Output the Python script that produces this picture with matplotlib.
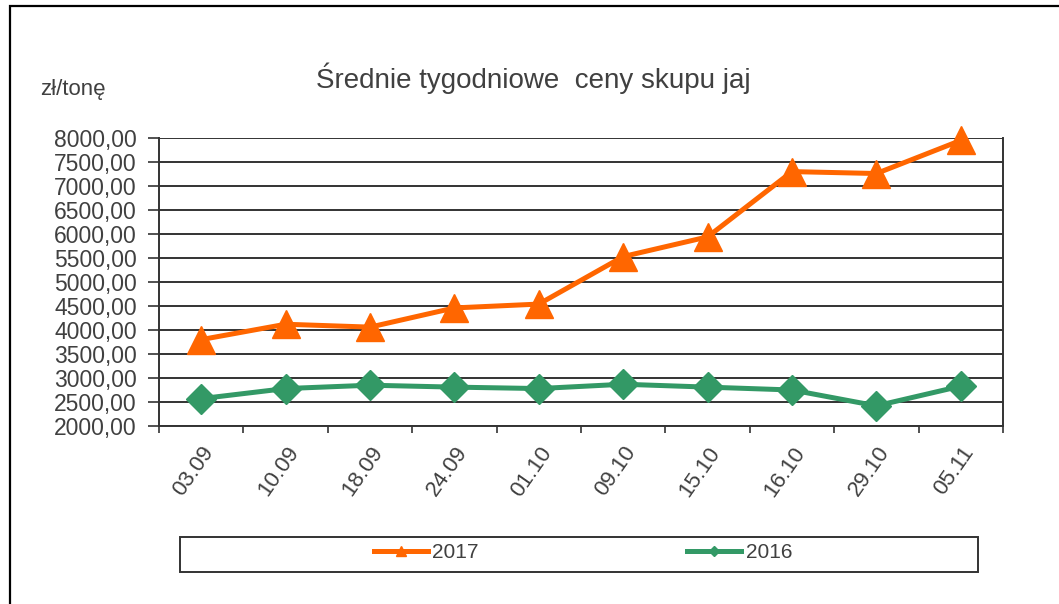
import matplotlib.pyplot as plt
from matplotlib.lines import Line2D
from matplotlib.patches import Rectangle
from matplotlib.ticker import FuncFormatter

plt.rcParams['font.family'] = ['Liberation Sans', 'DejaVu Sans']

weeks = ['03.09', '10.09', '18.09', '24.09', '01.10', '09.10', '15.10', '16.10', '29.10', '05.11']
price_2017 = [3800, 4120, 4060, 4460, 4540, 5530, 5940, 7300, 7260, 7950]
price_2016 = [2570, 2780, 2850, 2810, 2780, 2870, 2810, 2750, 2420, 2830]

orange = '#ff6600'
green = '#339966'
txt = '#404040'

fig = plt.figure(figsize=(10.59, 6.04), dpi=100)
ax = fig.add_axes([159 / 1059, 1 - 426 / 604, 844 / 1059, 288 / 604])

x = list(range(len(weeks)))
ax.plot(x, price_2017, color=orange, lw=3.6, marker='^', ms=20, zorder=3, clip_on=False)
ax.plot(x, price_2016, color=green, lw=3.6, marker='D', ms=15, zorder=3, clip_on=False)

ax.set_xlim(-0.5, len(weeks) - 0.5)
ax.set_ylim(2000, 8000)
ax.set_yticks(range(2000, 8001, 500))
ax.yaxis.set_major_formatter(FuncFormatter(lambda v, p: f'{v:.2f}'.replace('.', ',')))
ax.yaxis.grid(True, color='#333333', lw=1.4)
ax.set_axisbelow(True)

ax.set_xticks(x)
ax.set_xticklabels(weeks, rotation=55, ha='right', rotation_mode='anchor')
ax.set_xticks([i - 0.5 for i in range(len(weeks) + 1)], minor=True)
ax.tick_params(axis='x', which='major', length=0, pad=12, labelsize=16, labelcolor=txt)
ax.tick_params(axis='x', which='minor', length=5, width=1.2, color='#333333')
ax.tick_params(axis='y', length=8, width=1.2, color='#333333', labelsize=16.5, labelcolor=txt, pad=8)

ax.spines['top'].set_visible(False)
for s in ['left', 'right', 'bottom']:
    ax.spines[s].set_color('#333333')
    ax.spines[s].set_linewidth(1.4)

fig.text(533 / 1059, 1 - 78 / 604, 'Średnie tygodniowe  ceny skupu jaj', ha='center', va='center',
         fontsize=20, color=txt)
fig.text(40 / 1059, 1 - 90 / 604, 'zł/tonę', ha='left', va='center', fontsize=16, color=txt)

# legend box
fig.patches.append(Rectangle((180 / 1059, 1 - 572 / 604), 798 / 1059, 35 / 604,
                             transform=fig.transFigure, fill=False, ec='#333333', lw=1.4))
handles = [Line2D([], [], color=orange, lw=3.6, marker='^', ms=7),
           Line2D([], [], color=green, lw=3.6, marker='D', ms=5)]
fig.legend(handles, ['2017', '2016'], loc='center', bbox_to_anchor=(583 / 1059, 1 - 553 / 604),
           ncol=2, frameon=False, fontsize=15, labelcolor=txt, handlelength=2.6,
           handletextpad=0.2, columnspacing=10.0)

# outer border
fig.patches.append(Rectangle((10 / 1059, -0.05), 1.1, 1 - 6 / 604 + 0.05,
                             transform=fig.transFigure, fill=False, ec='black', lw=1.6))

fig.savefig('out.png', dpi=100)
